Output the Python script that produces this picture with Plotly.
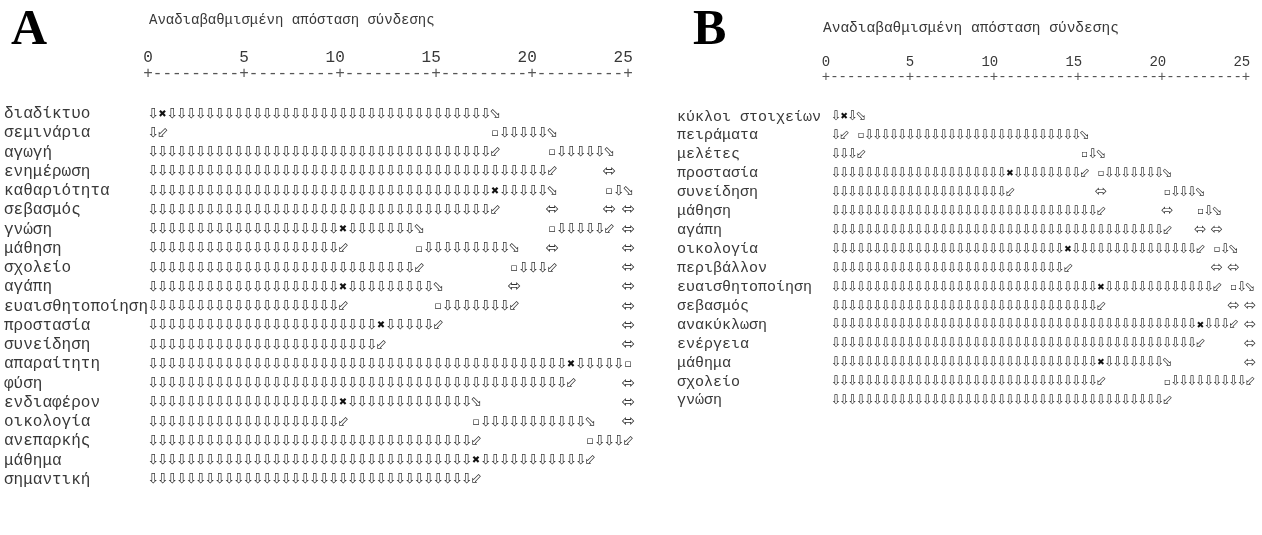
import plotly.graph_objects as go

W, H = 1262, 535

# ---------------- data ----------------
title_text = "Αναδιαβαθμισμένη απόσταση σύνδεσης"
scale_ticks = [0, 5, 10, 15, 20, 25]
scale_labels = ["0", "5", "10", "15", "20", "25"]

labels_A = ["διαδίκτυο", "σεμινάρια", "αγωγή", "ενημέρωση", "καθαριότητα",
            "σεβασμός", "γνώση", "μάθηση", "σχολείο", "αγάπη",
            "ευαισθητοποίηση", "προστασία", "συνείδηση", "απαραίτητη", "φύση",
            "ενδιαφέρον", "οικολογία", "ανεπαρκής", "μάθημα", "σημαντική"]

# dendrogram text lines (one character per half unit of rescaled distance)
lines_A = [
    "─┬" "──────────" "──────────" "──────────" "────" "┐",
    "─┘" "          " "          " "          " "    " "├" "─────" "┐",
    "──────────" "──────────" "──────────" "──────" "┘" "     " "├" "─────" "┐",
    "──────────" "──────────" "──────────" "──────────" "──" "┘" "     " "│",
    "──────────" "──────────" "──────────" "──────" "┬" "─────" "┐" "     " "├" "─" "┐",
    "──────────" "──────────" "──────────" "──────" "┘" "     " "│" "     " "│" " " "│",
    "──────────" "──────────" "┬" "───────" "┐" "          " "   " "├" "─────" "┘" " " "│",
    "──────────" "──────────" "┘" "       " "├" "─────────" "┐" "   " "│" "       " "│",
    "──────────" "──────────" "────────" "┘" "         " "├" "───" "┘" "       " "│",
    "──────────" "──────────" "┬" "─────────" "┐" "       " "│" "          " " " "│",
    "──────────" "──────────" "┘" "         " "├" "───────" "┘" "          " " " "│",
    "──────────" "──────────" "────" "┬" "─────" "┘" "          " "         " "│",
    "──────────" "──────────" "────" "┘" "          " "          " "     " "│",
    "──────────" "──────────" "──────────" "──────────" "────" "┬" "─────" "├",
    "──────────" "──────────" "──────────" "──────────" "────" "┘" "     " "│",
    "──────────" "──────────" "┬" "──────────" "───" "┐" "          " "     " "│",
    "──────────" "──────────" "┘" "          " "   " "├" "──────────" "─" "┐" "   " "│",
    "──────────" "──────────" "──────────" "────" "┘" "          " " " "├" "───" "┘",
    "──────────" "──────────" "──────────" "────" "┬" "──────────" "─" "┘",
    "──────────" "──────────" "──────────" "────" "┘",
]

labels_B = ["κύκλοι στοιχείων", "πειράματα", "μελέτες", "προστασία", "συνείδηση",
            "μάθηση", "αγάπη", "οικολογία", "περιβάλλον", "ευαισθητοποίηση",
            "σεβασμός", "ανακύκλωση", "ενέργεια", "μάθημα", "σχολείο", "γνώση"]

lines_B = [
    "─┬─┐",
    "─┘ ├" "──────────" "──────────" "──────" "┐",
    "───┘" "          " "          " "      " "├─┐",
    "──────────" "──────────" "─" "┬" "────────" "┘" " " "├" "───────" "┐",
    "──────────" "──────────" "─" "┘" "          " "│" "       " "├" "───" "┐",
    "──────────" "──────────" "──────────" "──" "┘" "       " "│" "   " "├─┐",
    "──────────" "──────────" "──────────" "──────────" "┘" "   " "│" " " "│",
    "──────────" "──────────" "────────" "┬" "──────────" "─────" "┘" " " "├─┐",
    "──────────" "──────────" "────────" "┘" "          " "       " "│" " " "│",
    "──────────" "──────────" "──────────" "──" "┬" "──────────" "───" "┘" " " "├─┐",
    "──────────" "──────────" "──────────" "──" "┘" "          " "     " "│" " " "│",
    "──────────" "──────────" "──────────" "──────────" "────" "┬" "───" "┘" " " "│",
    "──────────" "──────────" "──────────" "──────────" "────" "┘" "     " "│",
    "──────────" "──────────" "──────────" "──" "┬" "───────" "┐" "         " "│",
    "──────────" "──────────" "──────────" "──" "┘" "       " "├" "─────────" "┘",
    "──────────" "──────────" "──────────" "──────────" "┘",
]

# glyphs as they appear in the reference (box characters shown through a symbol font)
glyph_of = {"─": "⇩", "┬": "✖", "┐": "⬂", "┘": "⬃", "├": "▫", "│": "⬄"}
# relative size / colour of each glyph
glyph_style = {"─": (1.0, "#333333"), "┬": (0.72, "#111111"), "┐": (1.0, "#333333"),
               "┘": (1.0, "#333333"), "├": (0.78, "#333333"), "│": (1.15, "#333333")}

# ---------------- layout geometry (pixels) ----------------
panels = {
    "A": dict(lines=lines_A, labels=labels_A, hx0=148, hpitch=9.6, gx0=153, gpitch=9.5,
              row1=114, rowstep=19.26, dom=(0, 650), label_px=2, label_size=16,
              head_size=16, glyph_size=14, title_px=(147, 20), title_size=14,
              letter_px=(9, 27), xg="x", xh="x2", ya="y"),
    "B": dict(lines=lines_B, labels=labels_B, hx0=826, hpitch=8.4, gx0=836, gpitch=8.28,
              row1=117, rowstep=18.93, dom=(651, 1262), label_px=675, label_size=15,
              head_size=14, glyph_size=13, title_px=(821, 28), title_size=14.5,
              letter_px=(691, 27), xg="x3", xh="x4", ya="y2"),
}

TEXT = "#383838"
MONO = "Liberation Mono, Courier New, monospace"

fig = go.Figure()
annotations = []
layout_axes = {}


def axname(a):
    return "xaxis" if a == "x" else "xaxis" + a[1:]


def yaxname(a):
    return "yaxis" if a == "y" else "yaxis" + a[1:]


for key, p in panels.items():
    # glyph marks, one trace per glyph kind
    for ch, g in glyph_of.items():
        xs, ys = [], []
        for r, line in enumerate(p["lines"], start=1):
            for c, cc in enumerate(line):
                if cc == ch:
                    xs.append(c / 2)
                    ys.append(r)
        scale, colr = glyph_style[ch]
        fig.add_trace(go.Scatter(
            x=xs, y=ys, mode="text", text=[g] * len(xs), textposition="middle center",
            textfont=dict(family="DejaVu Sans", size=p["glyph_size"] * scale, color=colr),
            xaxis=p["xg"], yaxis=p["ya"], hoverinfo="skip", showlegend=False,
            cliponaxis=False))

    # scale numbers (last digit sits on the tick, like the fixed-width original)
    num_text = [s + "\u00a0" * (len(s) - 1) for s in scale_labels]
    fig.add_trace(go.Scatter(
        x=scale_ticks, y=[-1.9] * len(scale_ticks), mode="text", text=num_text,
        textposition="middle center",
        textfont=dict(family=MONO, size=p["head_size"], color=TEXT),
        xaxis=p["xh"], yaxis=p["ya"], hoverinfo="skip", showlegend=False,
        cliponaxis=False))

    # scale rule "+---------+---------+ ..."
    ncol = 2 * scale_ticks[-1] + 1
    rule_x = [c / 2 for c in range(ncol)]
    rule_t = ["+" if (c % 10 == 0) else "-" for c in range(ncol)]
    fig.add_trace(go.Scatter(
        x=rule_x, y=[-1.07] * len(rule_x), mode="text", text=rule_t,
        textposition="middle center",
        textfont=dict(family=MONO, size=p["head_size"], color="#555555"),
        xaxis=p["xh"], yaxis=p["ya"], hoverinfo="skip", showlegend=False,
        cliponaxis=False))

    # axes
    d0, d1 = p["dom"]
    ug = 2 * p["gpitch"]
    uh = 2 * p["hpitch"]
    layout_axes[axname(p["xg"])] = dict(
        domain=[d0 / W, d1 / W], range=[(d0 - p["gx0"]) / ug, (d1 - p["gx0"]) / ug],
        visible=False, anchor=p["ya"])
    layout_axes[axname(p["xh"])] = dict(
        overlaying=p["xg"], domain=[d0 / W, d1 / W],
        range=[(d0 - p["hx0"]) / uh, (d1 - p["hx0"]) / uh],
        visible=False, anchor=p["ya"])
    r1, st = p["row1"], p["rowstep"]
    layout_axes[yaxname(p["ya"])] = dict(
        domain=[0, 1], range=[1 + (H - r1) / st, 1 - r1 / st], visible=False,
        anchor=p["xg"])

    # row labels
    for r, lab in enumerate(p["labels"], start=1):
        annotations.append(dict(
            x=(p["label_px"] - p["gx0"]) / ug, y=r, xref=p["xg"], yref=p["ya"],
            text=lab, showarrow=False, xanchor="left", yanchor="middle",
            font=dict(family=MONO, size=p["label_size"], color=TEXT)))

    # axis title
    tx, ty = p["title_px"]
    annotations.append(dict(
        x=tx / W, y=1 - ty / H, xref="paper", yref="paper", text=title_text,
        showarrow=False, xanchor="left", yanchor="middle",
        font=dict(family=MONO, size=p["title_size"], color=TEXT)))

    # panel letter
    lx, ly = p["letter_px"]
    annotations.append(dict(
        x=lx / W, y=1 - ly / H, xref="paper", yref="paper", text="<b>" + key + "</b>",
        showarrow=False, xanchor="left", yanchor="middle",
        font=dict(family="Liberation Serif, Times New Roman, serif", size=50,
                  color="#000000")))

fig.update_layout(
    width=W, height=H, margin=dict(l=0, r=0, t=0, b=0),
    paper_bgcolor="white", plot_bgcolor="white", showlegend=False,
    hovermode=False, dragmode=False,
    annotations=annotations, **layout_axes)

fig.write_html(
    "out.html", config={"displayModeBar": False, "staticPlot": True},
    post_script=("document.body.style.margin='0px';"
                 "document.body.style.overflow='hidden';"
                 "document.body.style.filter='grayscale(100%)';"))
